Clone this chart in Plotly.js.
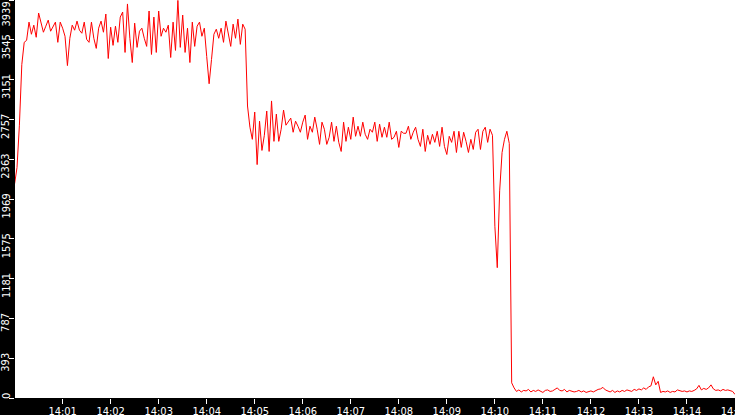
<!DOCTYPE html>
<html>
<head>
<meta charset="utf-8">
<script src="https://cdn.plot.ly/plotly-3.0.1.min.js"></script>
<style>
html, body { margin: 0; padding: 0; background: #000; }
#chart { width: 735px; height: 415px; }
</style>
</head>
<body>
<div id="chart"></div>
<script>
// Sampling: one reading every 3 seconds starting at 14:00:00
const startDate = '2024-01-01';
const startSeconds = 14 * 3600;
const stepSeconds = 3;

const values = [
  2120, 2280, 2700, 3300, 3520, 3540,
  3720, 3600, 3690, 3570, 3810, 3700, 3620, 3680, 3740, 3630,
  3670, 3720, 3520, 3720, 3660, 3580, 3290, 3560, 3690, 3640,
  3730, 3640, 3610, 3720, 3550, 3520, 3720, 3560, 3460, 3660,
  3730, 3620, 3800, 3360, 3670, 3490, 3680, 3520, 3770, 3820,
  3420, 3900, 3560, 3320, 3710,
  3470, 3630, 3660, 3560, 3480,
  3830, 3400, 3770, 3420, 3830, 3580, 3660, 3620, 3690, 3370,
  3720, 3440, 3935, 3470, 3790, 3420, 3660, 3320, 3720, 3480,
  3680, 3720, 3580, 3660, 3380, 3110, 3350, 3600, 3650, 3560,
  3660, 3520, 3730, 3620, 3480, 3700, 3560, 3750, 3500, 3700,
  3650,
  2890, 2680, 2560, 2830, 2310, 2740, 2450, 2600, 2840, 2440,
  2940, 2540, 2810, 2540, 2660, 2850, 2700, 2730, 2770, 2630,
  2740, 2690, 2630, 2730, 2800, 2560, 2690, 2630, 2780, 2660,
  2510, 2730, 2660, 2510, 2580, 2730, 2540, 2690, 2530, 2440,
  2730, 2540, 2680, 2560, 2780, 2590, 2690, 2590, 2730,
  2610, 2560, 2660, 2630, 2730, 2540, 2710, 2580, 2680, 2580,
  2730, 2560, 2580, 2640, 2480, 2640, 2620, 2620, 2690, 2560,
  2630, 2680, 2560, 2490, 2660, 2440, 2600, 2510, 2610, 2530,
  2640, 2490, 2680, 2490, 2410, 2590, 2530, 2640, 2430, 2640,
  2480, 2630, 2540, 2430, 2560, 2460, 2630, 2660, 2460, 2640,
  2680, 2530, 2660, 2600,
  1700, 1290, 2050, 2430, 2560, 2640, 2520,
  150, 100, 65, 80, 60, 75, 70, 85, 60, 75,
  65, 80, 70, 55, 75, 80, 65, 70, 85, 100,
  75, 70, 85, 60, 75, 70, 60, 65, 75, 60,
  70, 55, 65, 70, 60, 75, 85, 90, 105, 80,
  70, 60, 75, 55, 70, 60, 75, 65, 80, 70,
  65, 85, 75, 90, 80, 100, 85, 110, 120, 210,
  130, 165, 55, 65, 60, 70, 55, 65, 60, 80,
  75, 65, 70, 60, 70, 65, 75, 90, 125, 80,
  95, 85, 100, 130, 90, 75, 80, 70, 85, 75,
  80, 70, 65, 35
];

const yTickValues = [0, 393.9, 787.8, 1181.7, 1575.6, 1969.5, 2363.4, 2757.3, 3151.2, 3545.1, 3939];
const yTickLabels = ['0', '393', '787', '1181', '1575', '1969', '2363', '2757', '3151', '3545', '3939'];
const yRange = [0, 3939];
const xRange = ['2024-01-01 14:00:00.5', '2024-01-01 14:15:00'];

function pad2(n) { return (n < 10 ? '0' : '') + n; }
function stamp(sec) {
  const h = Math.floor(sec / 3600);
  const m = Math.floor((sec % 3600) / 60);
  const s = sec % 60;
  return startDate + ' ' + pad2(h) + ':' + pad2(m) + ':' + pad2(s);
}
const times = values.map((v, i) => stamp(startSeconds + i * stepSeconds));

const tickFont = { family: 'DejaVu Sans Condensed, DejaVu Sans, sans-serif', size: 11, color: '#ffffff' };

const trace = {
  x: times,
  y: values,
  type: 'scatter',
  mode: 'lines',
  line: { color: '#ff0000', width: 1 },
  hoverinfo: 'skip'
};

// vertical tick labels of the value axis, hung just below each tick
const yLabelAnnotations = yTickValues.map((v, k) => {
  const isTop = v >= yRange[1];
  return {
    text: yTickLabels[k],
    xref: 'paper',
    yref: isTop ? 'paper' : 'y',
    x: 0,
    y: isTop ? 1 : v,
    xanchor: 'center',
    yanchor: 'top',
    xshift: -9,
    yshift: isTop ? -1 : 6,
    textangle: -90,
    showarrow: false,
    borderpad: 0,
    font: tickFont
  };
});

const layout = {
  width: 735,
  height: 415,
  margin: { l: 15, r: 0, t: 0, b: 17, pad: 0 },
  paper_bgcolor: '#000000',
  plot_bgcolor: '#ffffff',
  showlegend: false,
  xaxis: {
    type: 'date',
    range: xRange,
    tickformat: '%H:%M',
    tick0: '2024-01-01 14:00:00',
    dtick: 60000,
    ticks: 'outside',
    ticklen: 5,
    tickwidth: 1,
    tickcolor: '#ffffff',
    showgrid: false,
    zeroline: false,
    showline: false,
    tickfont: tickFont,
    ticklabelstandoff: -2,
    ticklabeloverflow: 'allow'
  },
  yaxis: {
    range: yRange,
    tickmode: 'array',
    tickvals: yTickValues,
    showticklabels: false,
    ticks: 'outside',
    ticklen: 5,
    tickwidth: 1,
    tickcolor: '#ffffff',
    showgrid: false,
    zeroline: false,
    showline: false
  },
  annotations: yLabelAnnotations
};

Plotly.newPlot('chart', [trace], layout, { staticPlot: true, displayModeBar: false });
</script>
</body>
</html>
